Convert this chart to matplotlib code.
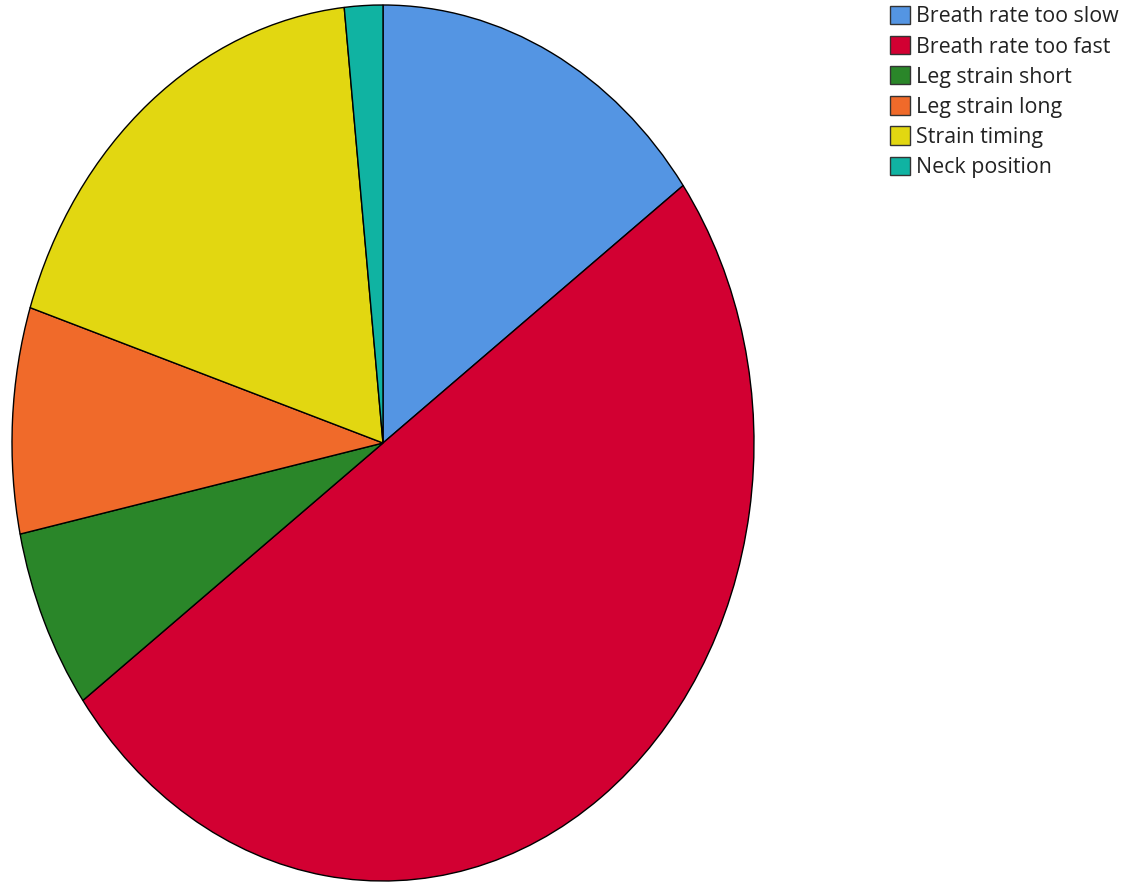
import matplotlib
matplotlib.use('Agg')
import matplotlib.pyplot as plt

labels = ['Breath rate too slow', 'Breath rate too fast', 'Leg strain short',
          'Leg strain long', 'Strain timing', 'Neck position']
counts = [9, 30, 4, 5, 11, 1]
colors = ['#5495e3', '#d20032', '#2a8629', '#f06a2a', '#e2d711', '#10b3a2']

W, H = 1126, 882
fig = plt.figure(figsize=(W / 100, H / 100), dpi=100)
fig.patch.set_facecolor('white')

# pie is stretched into an ellipse
ax = fig.add_axes([12 / W, 1 - 881 / H, 742 / W, 876 / H])
wedges, _ = ax.pie(counts, colors=colors, startangle=90, counterclock=False,
                   wedgeprops=dict(edgecolor='black', linewidth=1.0))
ax.set_aspect('auto')
ax.set_xlim(-1, 1)
ax.set_ylim(-1, 1)
ax.axis('off')

fs = 15.4
leg = fig.legend(wedges, labels, loc='upper left', bbox_to_anchor=(890 / W, 1 - 6 / H),
                 frameon=False, handlelength=0.93, handleheight=0.93,
                 handletextpad=0.28, labelspacing=0.405, borderpad=0, borderaxespad=0,
                 prop={'family': ['Open Sans', 'DejaVu Sans'], 'size': fs})
for p in leg.get_patches():
    p.set_edgecolor('#333333')
    p.set_linewidth(1.0)
for t in leg.get_texts():
    t.set_color('#222222')

fig.savefig('out.png', dpi=100)
